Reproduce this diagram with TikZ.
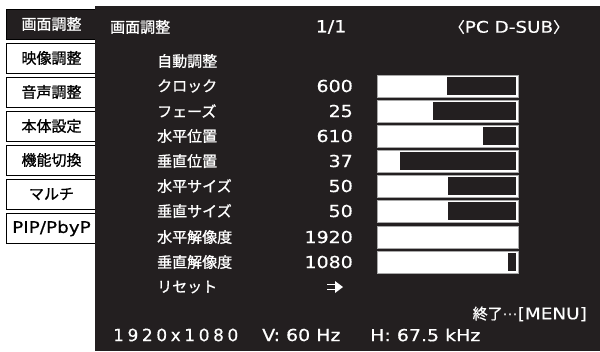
\documentclass[tikz,border=0pt]{standalone}
\usepackage{fontspec}
\setmainfont{Noto Sans CJK JP}[FakeBold=1.0]
\newfontfamily\numfont[FakeStretch=1.15,FakeBold=0.5]{DejaVu Sans}
\newfontfamily\symfont{DejaVu Sans}
\definecolor{panel}{HTML}{231F20}
\definecolor{barline}{HTML}{A8A8A8}
\tikzset{
  jp/.style={font=\fontsize{15}{18}\selectfont, inner sep=0pt},
  num/.style={font=\numfont\fontsize{16.5}{18}\selectfont, inner sep=0pt},
  tabbox/.style={draw=black, line width=0.9pt, fill=white, minimum width=91pt, minimum height=30pt, inner sep=0pt, font=\fontsize{15}{18}\selectfont},
  item/.style={jp, text=white, anchor=west},
  val/.style={num, text=white, anchor=east},
  barframe/.style={fill=white, draw=barline, line width=1pt},
  barfill/.style={fill=panel},
  arrowsym/.style={white, line width=1.5pt}
}
\newcommand{\valbar}[2]{% top, dark start x
  \draw[barframe] (377,#1) rectangle (518,#1+22.5);
  \fill[barfill] (#2,#1+2.3) rectangle (516,#1+20.3);
}
\begin{document}
\begin{tikzpicture}[x=1pt,y=-1pt]
\useasboundingbox (0,0) rectangle (600,351);
\fill[white] (0,0) rectangle (600,351);
% tabs
\node[tabbox, fill=panel, text=white] (tab1) at (51.5,24) {画面調整};
\node[tabbox] (tab2) at (51.5,58) {映像調整};
\node[tabbox] (tab3) at (51.5,92) {音声調整};
\node[tabbox] (tab4) at (51.5,126) {本体設定};
\node[tabbox] (tab5) at (51.5,160) {機能切換};
\node[tabbox] (tab6) at (51.5,194) {マルチ};
\node[tabbox, font=\numfont\fontsize{16}{18}\selectfont] (tab7) at (51.5,228.5) {PIP/PbyP};
% panel
\fill[panel] (95,6) rectangle (600,351);
% header
\node[item] (hdr) at (110,27) {画面調整};
\node[num, text=white] (page) at (331,27) {1/1};
\node[text=white, inner sep=0pt] (src) at (509,27) {\fontsize{15}{18}\selectfont 〈\numfont\fontsize{16}{18}\selectfont PC D-SUB\fontsize{15}{18}\selectfont\rmfamily 〉};
% rows
\node[item] (r0) at (157,61) {自動調整};
\node[item] (r1) at (157,86) {クロック};
\node[item] (r2) at (157,111) {フェーズ};
\node[item] (r3) at (157,136) {水平位置};
\node[item] (r4) at (157,161) {垂直位置};
\node[item] (r5) at (157,186) {水平サイズ};
\node[item] (r6) at (157,211) {垂直サイズ};
\node[item] (r7) at (157,237) {水平解像度};
\node[item] (r8) at (157,262) {垂直解像度};
\node[item] (r9) at (157,287) {リセット};
% values
\node[val] (v1) at (353,86) {600};
\node[val] (v2) at (353,111) {25};
\node[val] (v3) at (353,136) {610};
\node[val] (v4) at (353,161) {37};
\node[val] (v5) at (353,186) {50};
\node[val] (v6) at (353,211) {50};
\node[val] (v7) at (353,237) {1920};
\node[val] (v8) at (353,262) {1080};
% reset arrow symbol
\coordinate (v9) at (335,287);
\draw[arrowsym] ([xshift=-8pt,yshift=-2.3pt]v9) -- ([xshift=1pt,yshift=-2.3pt]v9);
\draw[arrowsym] ([xshift=-8pt,yshift=2.3pt]v9) -- ([xshift=1pt,yshift=2.3pt]v9);
\fill[white] ([xshift=0pt,yshift=-6pt]v9) -- ([xshift=8pt]v9) -- ([xshift=0pt,yshift=6pt]v9) -- cycle;
% bars
\valbar{75}{447}
\valbar{100}{433}
\valbar{125}{483}
\valbar{150}{400}
\valbar{175}{448}
\valbar{200}{448}
\draw[barframe] (377,226) rectangle (518,248.5);
\valbar{251}{508}
% exit
\node[text=white, inner sep=0pt, anchor=east] (exit) at (587,314) {\fontsize{15}{18}\selectfont 終了{\symfont\fontsize{15}{18}\selectfont ⋯}\numfont\fontsize{16}{18}\selectfont[MENU]};
% bottom status
\node[text=white, inner sep=0pt, anchor=west, font=\symfont\addfontfeature{LetterSpace=21,FakeBold=0.5}\fontsize{17}{20}\selectfont] (res) at (113,335) {1920x1080};
\node[text=white, inner sep=0pt, anchor=west, font=\numfont\fontsize{16.5}{20}\selectfont] (vf) at (262,335) {V: 60 Hz};
\node[text=white, inner sep=0pt, anchor=west, font=\numfont\fontsize{16.5}{20}\selectfont] (hf) at (370,335) {H: 67.5 kHz};
\end{tikzpicture}
\end{document}
